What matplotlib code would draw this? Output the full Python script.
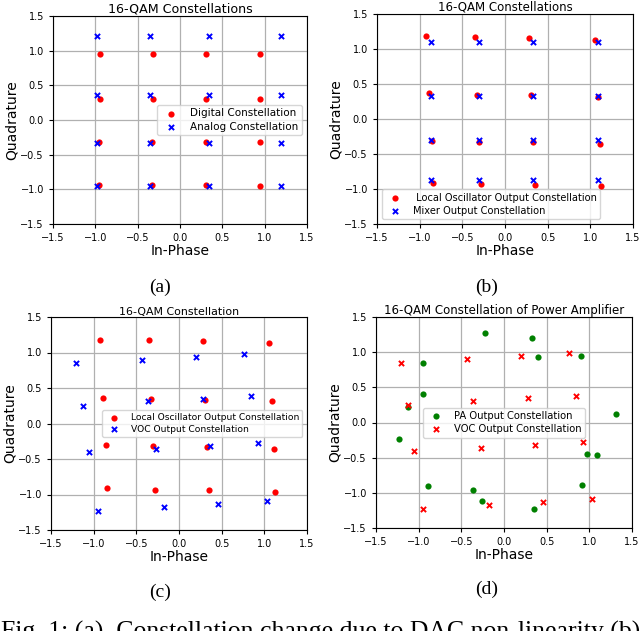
import numpy as np
from matplotlib import pyplot as plt

# (a) digital vs analog constellation
digital_i = [-0.95, -0.32, 0.31, 0.95, -0.95, -0.32, 0.31, 0.95, -0.96, -0.33, 0.31, 0.95, -0.96, -0.33, 0.31, 0.95]
digital_q = [0.95, 0.95, 0.95, 0.95, 0.31, 0.31, 0.31, 0.31, -0.32, -0.32, -0.32, -0.32, -0.94, -0.94, -0.94, -0.95]
analog_i = [-0.975, -0.355, 0.345, 1.19, -0.975, -0.355, 0.345, 1.19, -0.975, -0.355, 0.345, 1.19, -0.975, -0.355, 0.345, 1.19]
analog_q = [1.21, 1.21, 1.21, 1.21, 0.36, 0.36, 0.36, 0.36, -0.335, -0.335, -0.335, -0.335, -0.95, -0.95, -0.95, -0.95]

# (b)/(c) local oscillator output
lo_i = [-0.92, -0.35, 0.28, 1.055, -0.89, -0.33, 0.31, 1.085, -0.86, -0.30, 0.33, 1.11, -0.845, -0.28, 0.355, 1.13]
lo_q = [1.18, 1.175, 1.155, 1.135, 0.365, 0.35, 0.338, 0.32, -0.308, -0.323, -0.333, -0.357, -0.908, -0.93, -0.94, -0.96]

# (b) mixer output
mixer_i = [-0.865, -0.30, 0.327, 1.094, -0.865, -0.30, 0.327, 1.094, -0.865, -0.30, 0.327, 1.094, -0.865, -0.30, 0.327, 1.094]
mixer_q = [1.105, 1.105, 1.105, 1.105, 0.329, 0.329, 0.329, 0.329, -0.305, -0.305, -0.305, -0.305, -0.876, -0.876, -0.876, -0.876]

# (c)/(d) VOC output
voc_i = [-1.21, -0.435, 0.20, 0.767, -1.13, -0.36, 0.277, 0.847, -1.05, -0.275, 0.36, 0.923, -0.951, -0.171, 0.462, 1.03]
voc_q = [0.85, 0.897, 0.942, 0.982, 0.25, 0.31, 0.35, 0.383, -0.407, -0.364, -0.317, -0.279, -1.226, -1.17, -1.13, -1.09]

# (d) PA output
pa_i = [-0.225, 0.326, 0.393, 0.905, -0.952, -0.945, -1.128, 1.308, -1.226, 0.976, 1.089, -0.89, 0.913, -0.362, -0.252, 0.346]
pa_q = [1.269, 1.207, 0.933, 0.947, 0.853, 0.409, 0.22, 0.125, -0.238, -0.451, -0.46, -0.9, -0.885, -0.961, -1.117, -1.226]

ticks = [-1.5, -1.0, -0.5, 0.0, 0.5, 1.0, 1.5]

fig = plt.figure(figsize=(6.4, 6.31), dpi=100)

def setup(ax, title, title_size, sub, sub_xy):
	ax.set_xlim(-1.5, 1.5)
	ax.set_ylim(-1.5, 1.5)
	ax.set_xticks(ticks)
	ax.set_yticks(ticks)
	ax.tick_params(labelsize=7, length=3)
	ax.grid(True, color='#b0b0b0', linewidth=0.9)
	ax.set_axisbelow(True)
	ax.set_title(title, fontsize=title_size, pad=1.5)
	ax.set_xlabel("In-Phase", fontsize=10, labelpad=1)
	ax.set_ylabel("Quadrature", fontsize=10, labelpad=1)
	fig.text(sub_xy[0]/640, 1-sub_xy[1]/631, sub, family='Liberation Serif', fontsize=14, ha='center', va='center')

def legend(ax, loc, size):
	ax.legend(loc=loc, fontsize=size, scatterpoints=1, labelspacing=0.3, borderpad=0.35)

circ = dict(marker='o', s=20, linewidths=0)
cross = dict(marker='x', s=14, linewidths=1.4)

ax = fig.add_axes([53/640, 1-224/631, 254/640, 208/631])
ax.scatter(digital_i, digital_q, color='red', label='Digital Constellation', **circ)
ax.scatter(analog_i, analog_q, color='blue', label='Analog Constellation', **cross)
setup(ax, "16-QAM Constellations", 9.1, "(a)", (160, 287))
legend(ax, 'center right', 7.5)

ax = fig.add_axes([377/640, 1-224/631, 256/640, 210/631])
ax.scatter(lo_i, lo_q, color='red', label=' Local Oscillator Output Constellation', **circ)
ax.scatter(mixer_i, mixer_q, color='blue', label='Mixer Output Constellation', **cross)
setup(ax, "16-QAM Constellations", 8.5, "(b)", (487, 287))
legend(ax, 'lower left', 7.1)

ax = fig.add_axes([51/640, 1-530/631, 256/640, 213/631])
ax.scatter(lo_i, lo_q, color='red', label='Local Oscillator Output Constellation', **circ)
ax.scatter(voc_i, voc_q, color='blue', label='VOC Output Constellation', **cross)
setup(ax, "16-QAM Constellation", 7.9, "(c)", (160, 592))
legend(ax, 'center right', 6.6)

ax = fig.add_axes([376/640, 1-528/631, 256/640, 211/631])
ax.scatter(pa_i, pa_q, color='green', label='PA Output Constellation', **circ)
ax.scatter(voc_i, voc_q, color='red', label='VOC Output Constellation', **cross)
setup(ax, "16-QAM Constellation of Power Amplifier", 8.5, "(d)", (487, 589))
legend(ax, 'center', 7.2)

# caption, only its top half shows at the bottom edge
fig.text(1/640, -7.5/631, "Fig. 1: (a)  Constellation change due to DAC non-linearity (b)", family='Liberation Serif', fontsize=18.5, ha='left', va='baseline')

fig.savefig("out.png", dpi=100)
